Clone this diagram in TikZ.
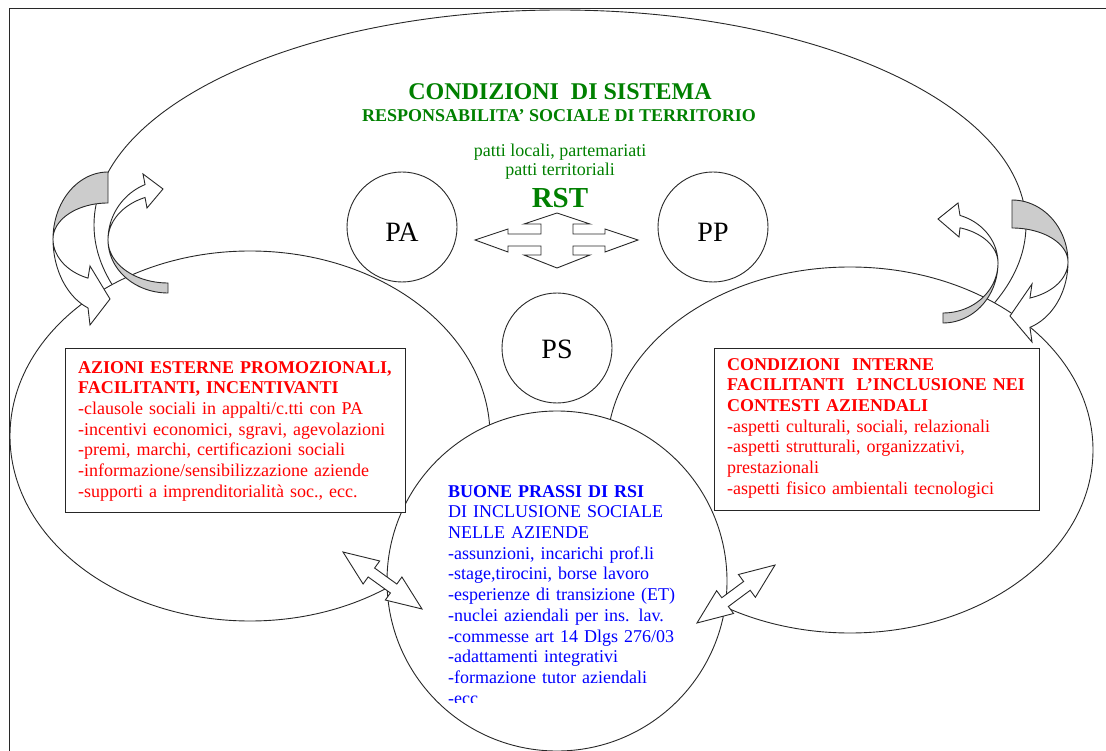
\documentclass[tikz,border=0pt]{standalone}
\usepackage{fontspec}
\setmainfont{Liberation Serif}[BoldFont={Liberation Serif Bold}]
\usetikzlibrary{shapes.geometric}
\definecolor{dgreen}{RGB}{0,128,0}
\definecolor{tred}{RGB}{255,0,0}
\definecolor{tblue}{RGB}{0,0,255}
\definecolor{backgray}{RGB}{204,204,204}
\definecolor{linec}{RGB}{40,40,40}
\begin{document}
\begin{tikzpicture}[x=1pt,y=-1pt,
  outl/.style={draw=linec, line width=0.9pt},
  shapefill/.style={outl, fill=white},
  backside/.style={outl, fill=backgray},
  bigoval/.style={ellipse, shapefill, inner sep=0pt, outer sep=0pt},
  roundel/.style={circle, shapefill, inner sep=0pt, outer sep=0pt},
  boxframe/.style={draw=black!85, line width=1.1pt, fill=white},
  blocktext/.style={anchor=north west, inner sep=0pt, align=left, text width=400pt, font=\fontsize{18}{20.7}\selectfont},
  gtext/.style={anchor=base, inner sep=0pt, text=dgreen},
  bigletters/.style={anchor=base, inner sep=0pt, font=\fontsize{28}{30}\selectfont}
]
\useasboundingbox (0,0) rectangle (1106,751);

% frame
\coordinate (fbl) at (9,751);
\coordinate (ftl) at (9,9);
\coordinate (ftr) at (1106,9);
\draw[draw=linec, line width=1pt] (fbl) -- (ftl) -- (ftr);

% ovals
\node[bigoval, minimum width=932pt, minimum height=430pt] (sys) at (560,225) {};
\node[bigoval, minimum width=480pt, minimum height=370pt] (ext) at (250,436) {};
\node[bigoval, minimum width=486pt, minimum height=366pt] (int) at (850,450) {};
\node[roundel, minimum size=340pt] (bp) at (557,581) {};

% small circles
\node[roundel, minimum size=110pt] (pa) at (402,227) {};
\node[roundel, minimum size=110pt] (pp) at (713,227) {};
\node[roundel, minimum size=110pt] (ps) at (557,348) {};

% boxes
\node[boxframe, minimum width=340pt, minimum height=164pt, inner sep=0pt, anchor=north west] (lbox) at (65,348) {};
\node[boxframe, minimum width=325pt, minimum height=162pt, inner sep=0pt, anchor=north west] (rbox) at (714,348) {};

% curved arrows left
\filldraw[backside] plot[domain=-90:-180, samples=30] ({108+55*cos(\x)},{239+67*sin(\x)})
   -- plot[domain=-180:-90, samples=30] ({108+55*cos(\x)},{239+36*sin(\x)}) -- cycle;
\filldraw[shapefill] plot[domain=180:111.3, samples=30] ({108+55*cos(\x)},{239+74*sin(\x)})
   -- (90,325) -- (110,299) -- (90,266)
   -- plot[domain=111.3:180, samples=30] ({108+55*cos(\x)},{239+42*sin(\x)}) -- cycle;
\filldraw[backside] plot[domain=90:180, samples=30] ({168+60*cos(\x)},{240+53*sin(\x)})
   -- plot[domain=180:90, samples=30] ({168+60*cos(\x)},{240+43*sin(\x)}) -- cycle;
\filldraw[shapefill] plot[domain=180:247.5, samples=30] ({168+60*cos(\x)},{240+60*sin(\x)})
   -- (143,174) -- (163,189) -- (147,208)
   -- plot[domain=247.5:180, samples=30] ({168+60*cos(\x)},{240+46*sin(\x)}) -- cycle;

% curved arrows right
\filldraw[backside] plot[domain=-90:0, samples=30] ({1012+56*cos(\x)},{262+62*sin(\x)})
   -- plot[domain=0:-90, samples=30] ({1012+56*cos(\x)},{262+34*sin(\x)}) -- cycle;
\filldraw[shapefill] plot[domain=0:71.3, samples=30] ({1012+56*cos(\x)},{262+69*sin(\x)})
   -- (1032,342) -- (1010,316) -- (1032,284)
   -- plot[domain=71.3:0, samples=30] ({1012+56*cos(\x)},{262+38*sin(\x)}) -- cycle;
\filldraw[backside] plot[domain=90:0, samples=30] ({943+55*cos(\x)},{263+60*sin(\x)})
   -- plot[domain=0:90, samples=30] ({943+55*cos(\x)},{263+50*sin(\x)}) -- cycle;
\filldraw[shapefill] plot[domain=0:-72, samples=30] ({943+55*cos(\x)},{263+50*sin(\x)})
   -- (958,203) -- (938,219) -- (959,237)
   -- plot[domain=-72:0, samples=30] ({943+55*cos(\x)},{263+37*sin(\x)}) -- cycle;

% four-way arrow
\filldraw[shapefill] (475,240) -- (508,229) -- (508,234) -- (541,234) -- (541,224) -- (524,224)
  -- (557,213) -- (590,224) -- (573,224) -- (573,234) -- (605,234) -- (605,229) -- (638,240)
  -- (605,252) -- (605,246) -- (573,246) -- (573,255) -- (590,255) -- (557,268) -- (524,255)
  -- (541,255) -- (541,246) -- (508,246) -- (508,252) -- cycle;

% double arrows
\coordinate (da1) at (382.5,580.5);
\coordinate (da2) at (736,594);
\begin{scope}[shift={(da1)}, rotate=-35.8]
\filldraw[shapefill] (-48.7,0) -- (-13.7,14.2) -- (-13.7,5.5) -- (13.7,5.5) -- (13.7,14.2) -- (48.7,0)
  -- (13.7,-14.2) -- (13.7,-5.5) -- (-13.7,-5.5) -- (-13.7,-14.2) -- cycle;
\end{scope}
\begin{scope}[shift={(da2)}, rotate=36.6]
\filldraw[shapefill] (-48.6,0) -- (-13.6,14.2) -- (-13.6,5.5) -- (13.6,5.5) -- (13.6,14.2) -- (48.6,0)
  -- (13.6,-14.2) -- (13.6,-5.5) -- (-13.6,-5.5) -- (-13.6,-14.2) -- cycle;
\end{scope}

% titles
\node[gtext, font=\fontsize{24}{26}\selectfont\bfseries] (t1) at (560,100) {CONDIZIONI\ \ DI SISTEMA};
\node[gtext, font=\fontsize{18}{20}\selectfont\bfseries] (t2) at (559,122) {RESPONSABILITA’ SOCIALE DI TERRITORIO};
\node[gtext, font=\fontsize{18}{20}\selectfont] (t3) at (560,157) {patti locali, partemariati};
\node[gtext, font=\fontsize{18}{20}\selectfont] (t4) at (560,176) {patti territoriali};
\node[gtext, font=\fontsize{29}{31}\selectfont\bfseries] (rst) at (560,208) {RST};

\node[bigletters] (patxt) at (402,242) {PA};
\node[bigletters] (pptxt) at (713,242) {PP};
\node[bigletters] (pstxt) at (557,359) {PS};

% box texts
\node[blocktext, text=tred] (ltxt) at (78,358.5) {\strut\textbf{AZIONI ESTERNE PROMOZIONALI,}\\
\textbf{FACILITANTI, INCENTIVANTI}\\
-clausole sociali in appalti/c.tti con PA\\
-incentivi economici, sgravi, agevolazioni\\
-premi, marchi, certificazioni sociali\\
-informazione/sensibilizzazione aziende\\
-supporti a imprenditorialità soc., ecc.};

\node[blocktext, text=tred] (rtxt) at (727,355.5) {\strut\textbf{CONDIZIONI\ \ INTERNE}\\
\textbf{FACILITANTI\ \ L’INCLUSIONE NEI}\\
\textbf{CONTESTI AZIENDALI}\\
-aspetti culturali, sociali, relazionali\\
-aspetti strutturali, organizzativi,\\
prestazionali\\
-aspetti fisico ambientali tecnologici};

\begin{scope}
\clip (0,0) rectangle (1106,702);
\node[blocktext, text=tblue] (ctxt) at (448,482.5) {\strut\textbf{BUONE PRASSI DI RSI}\\
DI INCLUSIONE SOCIALE\\
NELLE AZIENDE\\
-assunzioni, incarichi prof.li\\
-stage,tirocini, borse lavoro\\
-esperienze di transizione (ET)\\
-nuclei aziendali per ins. lav.\\
-commesse art 14 Dlgs 276/03\\
-adattamenti integrativi\\
-formazione tutor aziendali\\
-ecc};
\end{scope}
\end{tikzpicture}
\end{document}
